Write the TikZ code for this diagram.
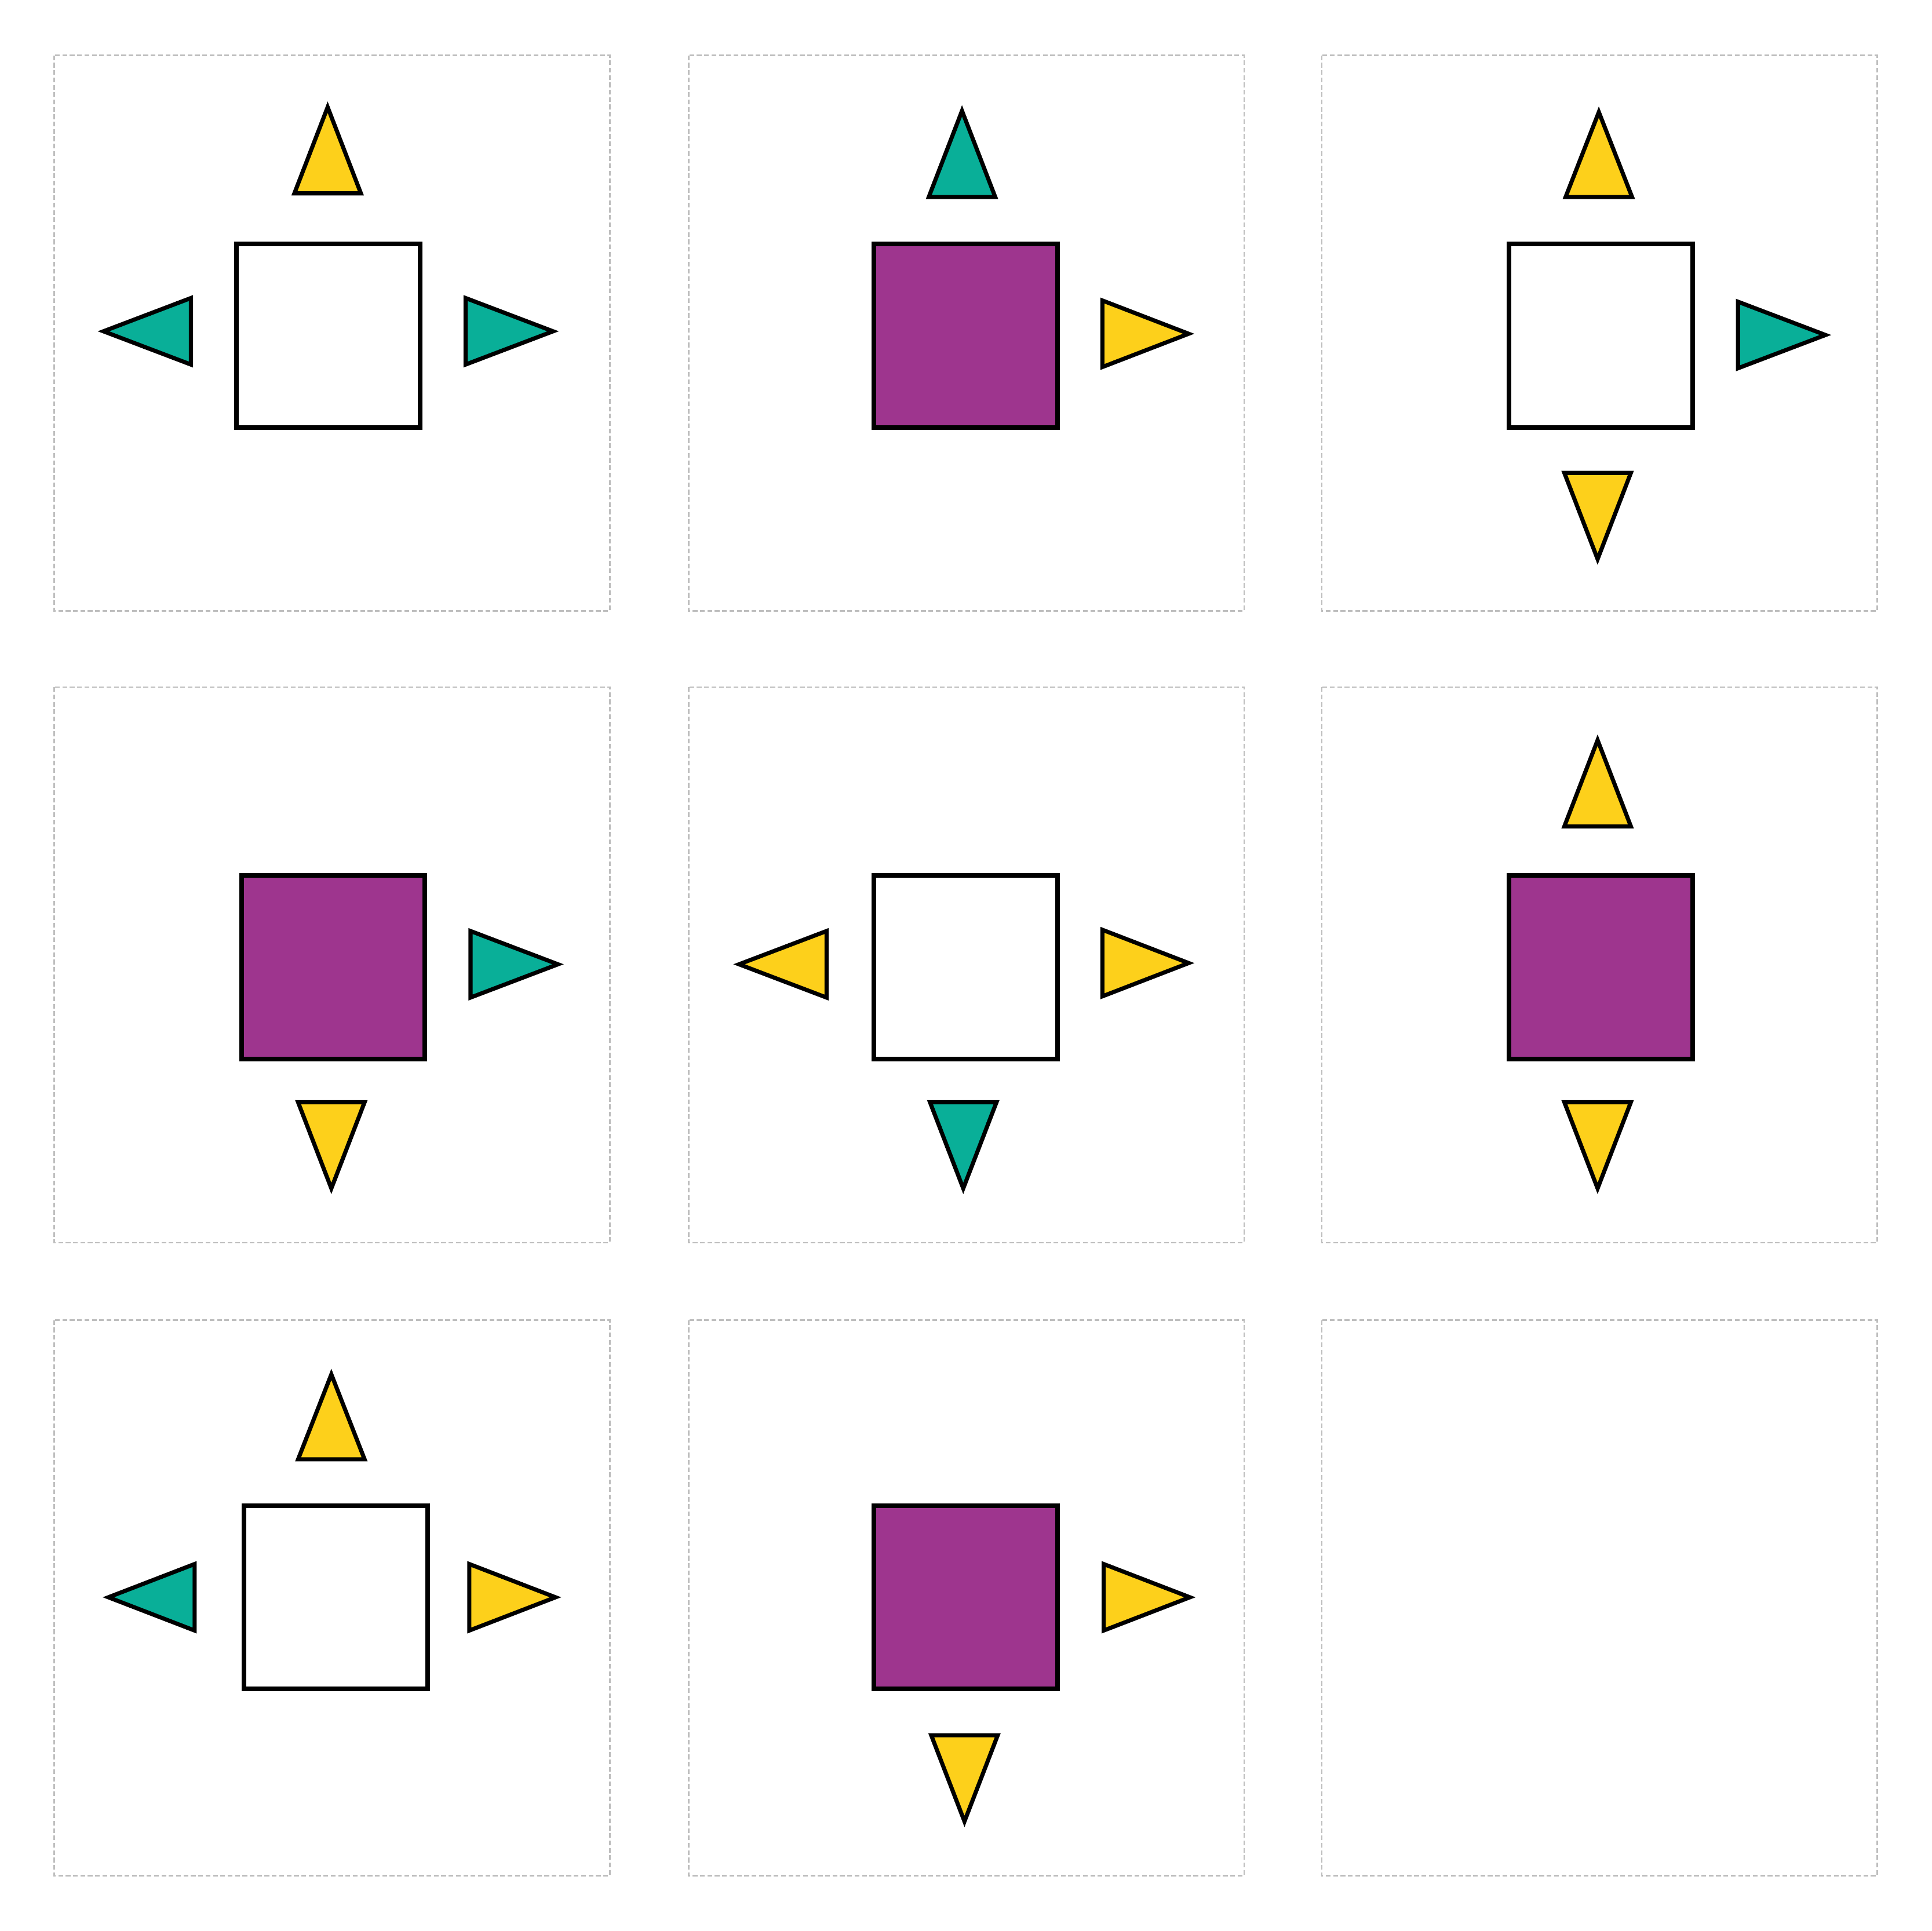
\documentclass[tikz,border=0pt]{standalone}
\definecolor{ylw}{RGB}{253,208,27}
\definecolor{tel}{RGB}{9,175,152}
\definecolor{prp}{RGB}{158,53,142}
\definecolor{frm}{RGB}{190,190,190}
\tikzset{
  panel/.style={draw=frm, line width=0.35pt, dash pattern=on 1.1pt off 0.6pt},
  sqbox/.style={draw=black, line width=1.07pt, minimum size=1.49cm, inner sep=0pt, outer sep=0pt},
  whitesq/.style={sqbox, fill=white},
  purplesq/.style={sqbox, fill=prp},
  tri/.style={draw=black, line width=0.95pt, line join=miter},
  ytri/.style={tri, fill=ylw},
  ttri/.style={tri, fill=tel}
}
\newcommand\triV[4]{\draw[#1] (#2,#3) -- (#2+27,#4) -- (#2-27,#4) -- cycle;}
\newcommand\triH[4]{\draw[#1] (#2,#3) -- (#4,#3-27) -- (#4,#3+27) -- cycle;}
\begin{document}
\begin{tikzpicture}[x=0.01cm, y=-0.01cm]
\useasboundingbox[fill=white] (0,0) rectangle (1568,1568);
% panels
\foreach \cx/\cy [count=\i] in {44/45,559/45,1073/45,44/558,559/558,1073/558,44/1072,559/1072,1073/1072}
  \draw[panel] (\cx,\cy) rectangle ++(451,451);
% panel 1
\node[whitesq] (s1) at (266.5,272.5) {};
\triV{ytri}{266}{87}{157}
\triH{ttri}{84}{269}{155}
\triH{ttri}{449}{269}{378}
% panel 2
\node[purplesq] (s2) at (784,272.5) {};
\triV{ttri}{781}{90}{160}
\triH{ytri}{965}{271}{895}
% panel 3
\node[whitesq] (s3) at (1299.5,272.5) {};
\triV{ytri}{1298}{91}{160}
\triH{ttri}{1482}{272}{1411}
\triV{ytri}{1297}{454}{384}
% panel 4
\node[purplesq] (s4) at (270.5,785.5) {};
\triH{ttri}{453}{783}{382}
\triV{ytri}{269}{965}{895}
% panel 5
\node[whitesq] (s5) at (784,785.5) {};
\triH{ytri}{600}{783}{671}
\triH{ytri}{965}{782}{895}
\triV{ttri}{782}{965}{895}
% panel 6
\node[purplesq] (s6) at (1299.5,785.5) {};
\triV{ytri}{1297}{601}{671}
\triV{ytri}{1297}{965}{895}
% panel 7
\node[whitesq] (s7) at (272.5,1297) {};
\triV{ytri}{269}{1116}{1185}
\triH{ttri}{88}{1297}{158}
\triH{ytri}{451}{1297}{381}
% panel 8
\node[purplesq] (s8) at (784,1297) {};
\triH{ytri}{966}{1297}{896}
\triV{ytri}{783}{1479}{1409}
\end{tikzpicture}
\end{document}
